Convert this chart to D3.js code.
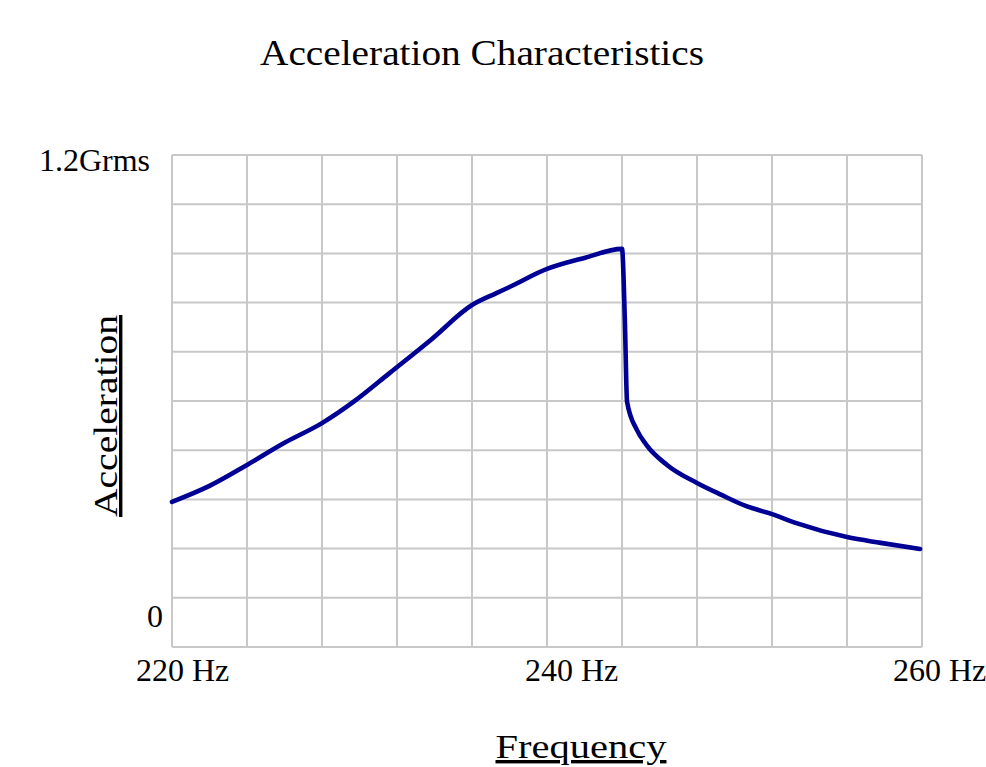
<!DOCTYPE html>
<html>
<head>
<meta charset="utf-8">
<script src="https://cdn.jsdelivr.net/npm/d3@7/dist/d3.min.js"></script>
<style>
  html, body { margin: 0; padding: 0; background: #ffffff; }
  svg { display: block; }
  text { font-family: "Liberation Serif", "Times New Roman", serif; fill: #000000; }
</style>
</head>
<body>
<script>
// ---- data ----
const titleText = "Acceleration Characteristics";
const xTitle = "Frequency";
const yTitle = "Acceleration";
const xDomain = [220, 260];
const yDomain = [0, 1.2];
const xTickValues = [220, 240, 260];
const xTickLabels = ["220 Hz", "240 Hz", "260 Hz"];
const yTickValues = [1.2, 0];
const yTickLabels = ["1.2Grms", "0"];
const gridDivisions = 10;
const freq = [220.0, 222.0, 224.0, 226.0, 228.0, 229.8, 231.6, 233.8, 236.0, 237.3, 238.0, 240.0, 242.0, 244.0, 244.15, 244.27, 244.8, 245.3, 246.4, 248.0, 249.3, 250.6, 252.0, 253.3, 256.0, 257.8, 259.9];
const accel = [0.354, 0.393, 0.444, 0.498, 0.546, 0.602, 0.668, 0.749, 0.834, 0.863, 0.878, 0.922, 0.949, 0.971, 0.80, 0.598, 0.529, 0.493, 0.444, 0.400, 0.371, 0.344, 0.324, 0.302, 0.268, 0.254, 0.239];

// ---- layout ----
const W = 986, H = 767;
const plot = { left: 172, right: 922, top: 155, bottom: 647 };

const svg = d3.select("body").append("svg").attr("width", W).attr("height", H);

const x = d3.scaleLinear().domain(xDomain).range([plot.left, plot.right]);
const y = d3.scaleLinear().domain(yDomain).range([plot.bottom, plot.top]);

// grid
const gridColor = "#c8c8c8";
const xGrid = d3.range(gridDivisions + 1).map(i => xDomain[0] + i * (xDomain[1] - xDomain[0]) / gridDivisions);
const yGrid = d3.range(gridDivisions + 1).map(i => yDomain[0] + i * (yDomain[1] - yDomain[0]) / gridDivisions);

svg.append("g").selectAll("line").data(xGrid).join("line")
  .attr("x1", d => x(d)).attr("x2", d => x(d))
  .attr("y1", plot.top).attr("y2", plot.bottom)
  .attr("stroke", gridColor).attr("stroke-width", 2);
svg.append("g").selectAll("line").data(yGrid).join("line")
  .attr("y1", d => y(d)).attr("y2", d => y(d))
  .attr("x1", plot.left).attr("x2", plot.right)
  .attr("stroke", gridColor).attr("stroke-width", 2);

// curve
const pts = freq.map((f, i) => [f, accel[i]]);
const line = d3.line().x(d => x(d[0])).y(d => y(d[1])).curve(d3.curveMonotoneX);
svg.append("path").datum(pts)
  .attr("d", line)
  .attr("fill", "none")
  .attr("stroke", "#000094")
  .attr("stroke-width", 4.6)
  .attr("stroke-linejoin", "round")
  .attr("stroke-linecap", "round");

// title
svg.append("text").attr("x", 482).attr("y", 65)
  .attr("text-anchor", "middle").attr("font-size", 36)
  .attr("textLength", 444).attr("lengthAdjust", "spacingAndGlyphs")
  .text(titleText);

// y tick labels
svg.append("g").selectAll("text").data(yTickValues).join("text")
  .attr("x", (d, i) => i === 0 ? 150 : 163)
  .attr("y", d => d === yDomain[1] ? y(d) + 16 : y(d) - 20)
  .attr("text-anchor", "end").attr("font-size", 32)
  .text((d, i) => yTickLabels[i]);

// x tick labels
svg.append("g").selectAll("text").data(xTickValues).join("text")
  .attr("x", (d, i) => x(d) + [-36, -22, -29][i])
  .attr("y", plot.bottom + 34)
  .attr("text-anchor", "start").attr("font-size", 32)
  .text((d, i) => xTickLabels[i]);

// axis titles
svg.append("text").attr("x", 581).attr("y", 758)
  .attr("text-anchor", "middle").attr("font-size", 34)
  .attr("textLength", 171).attr("lengthAdjust", "spacingAndGlyphs")
  .attr("text-decoration", "underline")
  .text(xTitle);

svg.append("text")
  .attr("transform", "translate(117,416) rotate(-90)")
  .attr("text-anchor", "middle").attr("font-size", 34)
  .attr("textLength", 202).attr("lengthAdjust", "spacingAndGlyphs")
  .attr("text-decoration", "underline")
  .text(yTitle);
</script>
</body>
</html>
